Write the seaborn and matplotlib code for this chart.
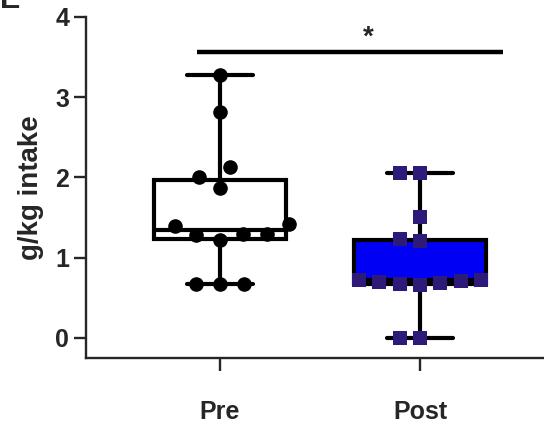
import numpy as np
import pandas as pd
import seaborn as sns
import matplotlib.pyplot as plt

# values (g/kg intake)
groups = ["Pre", "Post"]
pre_vals = [3.28, 2.82, 2.13, 2.00, 1.87, 1.42, 1.30, 1.22, 1.30, 1.28, 1.40, 0.67, 0.67, 0.67]
post_vals = [2.05, 2.05, 1.50, 1.21, 1.23, 0.72, 0.68, 0.71, 0.66, 0.70, 0.67, 0.72, 0.00, 0.00]
box_colors = ["white", "#0000f5"]
dot_colors = ["black", "#2e1a78"]
y_ticks = [0, 1, 2, 3, 4]

df = pd.DataFrame({
    "group": ["Pre"] * len(pre_vals) + ["Post"] * len(post_vals),
    "value": pre_vals + post_vals,
})

sns.set_style("ticks")
plt.rcParams["font.family"] = ["Liberation Sans", "DejaVu Sans"]
plt.rcParams["font.weight"] = "bold"

fig = plt.figure(figsize=(5.44, 4.24), dpi=100)
ax = fig.add_axes([0.158, 0.156, 0.842, 0.804])

sns.boxplot(data=df, x="group", y="value", hue="group", order=groups,
            palette=box_colors, saturation=1, whis=(0, 100), width=0.66,
            linewidth=3, linecolor="black", showfliers=False, legend=False, ax=ax)

# transparent edge widens the swarm spacing like the original scatter
sns.swarmplot(data=df[df.group == "Pre"], x="group", y="value", order=groups,
              color=dot_colors[0], marker="o", size=10.5, linewidth=6,
              edgecolor=(0, 0, 0, 0), ax=ax)
sns.swarmplot(data=df[df.group == "Post"], x="group", y="value", order=groups,
              color=dot_colors[1], marker="s", size=10, linewidth=4,
              edgecolor=(0, 0, 0, 0), ax=ax)

# significance bar
ax.plot([-0.115, 1.415], [3.56, 3.56], color="black", lw=3.2, solid_capstyle="butt")
ax.text(0.74, 3.74, "*", ha="center", va="center", fontsize=20, fontweight="bold")

ax.set_xlim(-0.67, 1.62)
ax.set_ylim(-0.25, 4.0)
ax.set_yticks(y_ticks)
ax.set_xlabel("")
ax.set_ylabel("g/kg intake", fontsize=20, fontweight="bold", labelpad=8)
sns.despine(ax=ax)
for s in ["left", "bottom"]:
    ax.spines[s].set_linewidth(1.7)
ax.tick_params(axis="y", length=9, width=1.7, labelsize=18, pad=3)
ax.tick_params(axis="x", length=9, width=1.7, labelsize=18, pad=21)
for lab in ax.get_xticklabels() + ax.get_yticklabels():
    lab.set_fontweight("bold")

fig.text(0.0, 1.0, "E", ha="left", va="center", fontsize=22, fontweight="bold")

fig.savefig("out.png", dpi=100)
